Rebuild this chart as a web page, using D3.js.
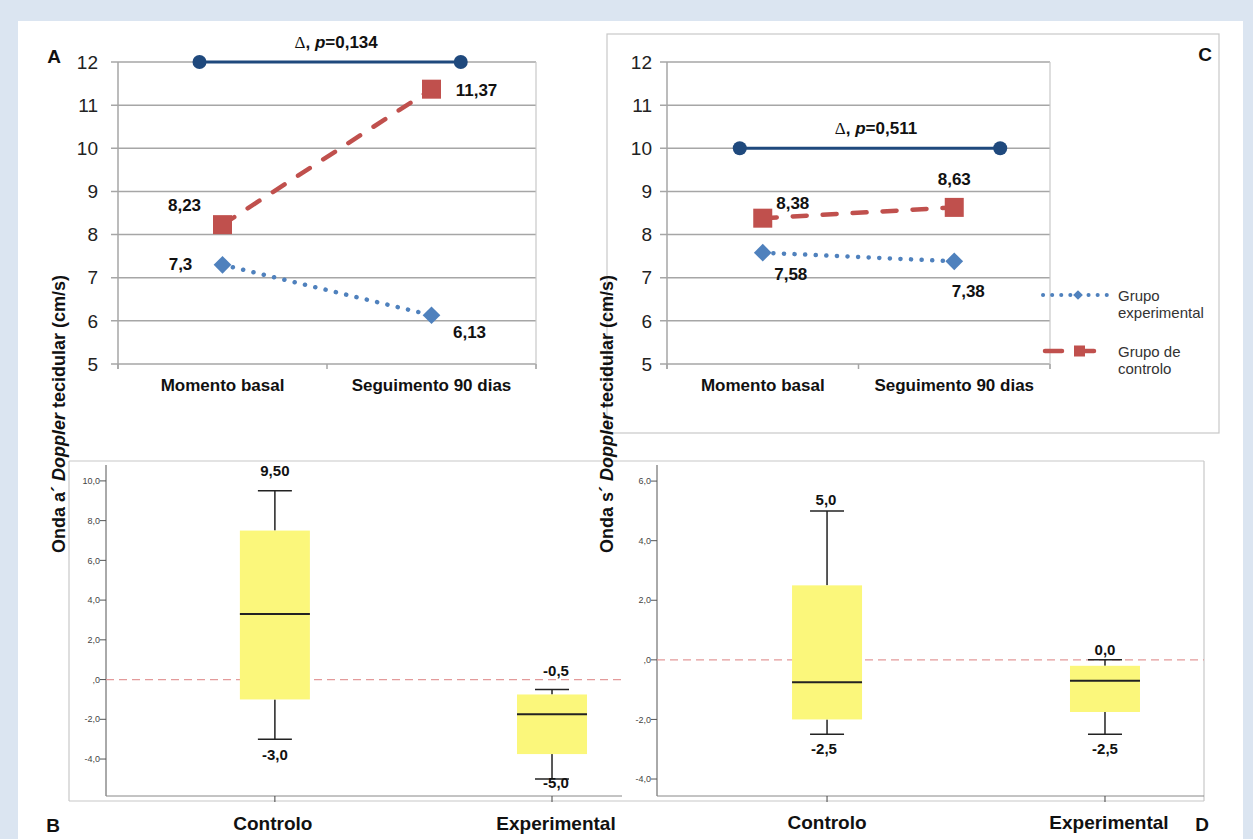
<!DOCTYPE html>
<html><head><meta charset="utf-8">
<script src="https://cdn.jsdelivr.net/npm/d3@7"></script>
<style>
body{margin:0;background:#dbe5f1;}
svg{display:block;}
text{font-family:"Liberation Sans", Arial, sans-serif;}
</style>
</head><body>
<svg id="chart" width="1253" height="839"></svg>
<script>
// ---------- DATA ----------
const timeCategories = ["Momento basal", "Seguimento 90 dias"];
const topTicks = [5, 6, 7, 8, 9, 10, 11, 12];

const aExperimental = [7.3, 6.13];
const aControl = [8.23, 11.37];
const aBracketIdx = [-0.11, 1.14];
const aBracketValue = 12;
const aPValue = "0,134";

const cExperimental = [7.58, 7.38];
const cControl = [8.38, 8.63];
const cBracketIdx = [-0.12, 1.24];
const cBracketValue = 10;
const cPValue = "0,511";

const legendLabels = [["Grupo", "experimental"], ["Grupo de", "controlo"]];

const boxCategories = ["Controlo", "Experimental"];
const bTicks = [-4, -2, 0, 2, 4, 6, 8, 10];
const bMin = [-3.0, -5.0];
const bQ1 = [-1.0, -3.75];
const bMedian = [3.3, -1.75];
const bQ3 = [7.5, -0.75];
const bMax = [9.5, -0.5];
const bMaxLabels = ["9,50", "-0,5"];
const bMinLabels = ["-3,0", "-5,0"];

const dTicks = [-4, -2, 0, 2, 4, 6];
const dMin = [-2.5, -2.5];
const dQ1 = [-2.0, -1.75];
const dMedian = [-0.75, -0.7];
const dQ3 = [2.5, -0.2];
const dMax = [5.0, 0.0];
const dMaxLabels = ["5,0", "0,0"];
const dMinLabels = ["-2,5", "-2,5"];

// ---------- STYLE ----------
const RED = "#c0504d", BLUE = "#4f81bd", NAVY = "#1f497d", GRID = "#a6a6a6";
const YELLOW = "#fbf77b", FRAME = "#c8c8c8";

const svg = d3.select("#chart");
svg.append("rect").attr("x", 18).attr("y", 21).attr("width", 1225).attr("height", 818).attr("fill", "#fff");

const fmt = v => String(v).replace(".", ",");

// panel C frame
svg.append("rect").attr("x", 607).attr("y", 34).attr("width", 612).attr("height", 399)
  .attr("fill", "none").attr("stroke", FRAME).attr("stroke-width", 1.2);

function drawLinePanel(o) {
  const g = svg.append("g");
  const y = d3.scaleLinear().domain([5, 12]).range([364, 62]);
  const x = d3.scaleBand().domain(timeCategories).range([o.x0, o.x1]).padding(0);
  const xi = d3.scaleLinear().domain([-0.5, 1.5]).range([o.x0, o.x1]);
  const cx = (d, i) => x(timeCategories[i]) + x.bandwidth() / 2;

  // grid
  g.selectAll(".grid").data(topTicks).join("line")
    .attr("x1", o.x0 - 7).attr("x2", o.x1).attr("y1", d => y(d)).attr("y2", d => y(d))
    .attr("stroke", GRID).attr("stroke-width", 1.5);
  // axes
  g.append("line").attr("x1", o.x0).attr("x2", o.x0).attr("y1", y(12)).attr("y2", y(5) + 5)
    .attr("stroke", GRID).attr("stroke-width", 1.5);
  g.append("line").attr("x1", o.x1).attr("x2", o.x1).attr("y1", y(12)).attr("y2", y(5) + 5)
    .attr("stroke", "#c8c8c8").attr("stroke-width", 1.2);
  [o.x0, o.x0 + x.bandwidth(), o.x1].forEach(t => {
    g.append("line").attr("x1", t).attr("x2", t).attr("y1", y(5)).attr("y2", y(5) + 5)
      .attr("stroke", GRID).attr("stroke-width", 1.5);
  });
  g.selectAll(".yt").data(topTicks).join("text")
    .attr("x", o.x0 - o.labOff).attr("y", d => y(d)).attr("dy", "0.35em")
    .attr("text-anchor", "end").attr("font-size", 19).attr("fill", "#222").text(d => d);
  g.selectAll(".xt").data(timeCategories).join("text")
    .attr("x", d => x(d) + x.bandwidth() / 2).attr("y", 391)
    .attr("text-anchor", "middle").attr("font-size", 17).attr("font-weight", "bold")
    .attr("fill", "#111").text(d => d);

  // bracket
  const by = y(o.bracketValue);
  g.append("line").attr("x1", xi(o.bracketIdx[0])).attr("x2", xi(o.bracketIdx[1]))
    .attr("y1", by).attr("y2", by).attr("stroke", NAVY).attr("stroke-width", 3);
  g.selectAll(".bc").data(o.bracketIdx).join("circle")
    .attr("cx", d => xi(d)).attr("cy", by).attr("r", 7).attr("fill", NAVY);
  const dt = g.append("text").attr("x", (xi(o.bracketIdx[0]) + xi(o.bracketIdx[1])) / 2 + 6)
    .attr("y", by - 14).attr("text-anchor", "middle").attr("font-size", 17).attr("fill", "#111");
  dt.append("tspan").attr("font-family", "Liberation Serif, Times New Roman, serif").text("\u0394");
  dt.append("tspan").attr("font-weight", "bold").text(", ");
  dt.append("tspan").attr("font-weight", "bold").attr("font-style", "italic").text("p");
  dt.append("tspan").attr("font-weight", "bold").text("=" + o.p);

  // series
  const line = d3.line().x((d, i) => cx(d, i)).y(d => y(d));
  g.append("path").datum(o.control).attr("d", line).attr("fill", "none")
    .attr("stroke", RED).attr("stroke-width", 4.5).attr("stroke-dasharray", "14,16")
    .attr("stroke-linecap", "round");
  g.append("path").datum(o.experimental).attr("d", line).attr("fill", "none")
    .attr("stroke", BLUE).attr("stroke-width", 4.5).attr("stroke-dasharray", "0.1,10.5")
    .attr("stroke-linecap", "round");
  g.selectAll(".sq").data(o.control).join("rect")
    .attr("x", (d, i) => cx(d, i) - 9.5).attr("y", d => y(d) - 9.5)
    .attr("width", 19).attr("height", 19).attr("fill", RED);
  g.selectAll(".dm").data(o.experimental).join("path")
    .attr("d", d3.symbol(d3.symbolDiamond2, 200)())
    .attr("transform", (d, i) => `translate(${cx(d, i)},${y(d)})`).attr("fill", BLUE);

  const lab = (arr, offs) => g.selectAll(null).data(arr).join("text")
    .attr("x", (d, i) => cx(d, i) + offs[i][0]).attr("y", (d, i) => y(d) + offs[i][1])
    .attr("dy", "0.35em").attr("text-anchor", "middle").attr("font-size", 17)
    .attr("font-weight", "bold").attr("fill", "#111").text(d => fmt(d));
  lab(o.control, o.ctrlOff);
  lab(o.experimental, o.expOff);
}

drawLinePanel({x0: 118, x1: 536, labOff: 20, experimental: aExperimental, control: aControl,
  bracketIdx: aBracketIdx, bracketValue: aBracketValue, p: aPValue,
  ctrlOff: [[-38, -20], [45, 1]], expOff: [[-42, -1], [38, 17]]});
drawLinePanel({x0: 667, x1: 1050, labOff: 15, experimental: cExperimental, control: cControl,
  bracketIdx: cBracketIdx, bracketValue: cBracketValue, p: cPValue,
  ctrlOff: [[30, -15], [0, -28]], expOff: [[28, 21], [14, 30]]});

// panel letters
[["A", 54, 63], ["C", 1205, 61], ["B", 53, 832], ["D", 1202, 831]].forEach(([t, x, yy]) => {
  svg.append("text").attr("x", x).attr("y", yy).attr("text-anchor", "middle")
    .attr("font-size", 19).attr("font-weight", "bold").attr("fill", "#111").text(t);
});

// legend
const lg = svg.append("g");
lg.append("line").attr("x1", 1043).attr("x2", 1107).attr("y1", 295).attr("y2", 295)
  .attr("stroke", BLUE).attr("stroke-width", 4).attr("stroke-dasharray", "0.1,9")
  .attr("stroke-linecap", "round");
lg.append("path").attr("d", d3.symbol(d3.symbolDiamond2, 60)()).attr("transform", "translate(1078,295)").attr("fill", BLUE);
lg.append("line").attr("x1", 1045).attr("x2", 1097).attr("y1", 351).attr("y2", 351)
  .attr("stroke", RED).attr("stroke-width", 4.5).attr("stroke-dasharray", "17,15")
  .attr("stroke-linecap", "round");
lg.append("rect").attr("x", 1074).attr("y", 345.5).attr("width", 11).attr("height", 11).attr("fill", RED);
legendLabels.forEach((lines, k) => {
  const t = lg.append("text").attr("x", 1118).attr("y", k === 0 ? 301 : 357)
    .attr("font-size", 15).attr("fill", "#333");
  lines.forEach((s, j) => t.append("tspan").attr("x", 1118).attr("dy", j === 0 ? 0 : 17).text(s));
});

// bottom frame
svg.append("line").attr("x1", 69).attr("x2", 1204).attr("y1", 461).attr("y2", 461).attr("stroke", FRAME).attr("stroke-width", 1.2);
svg.append("line").attr("x1", 69).attr("x2", 1204).attr("y1", 801).attr("y2", 801).attr("stroke", FRAME).attr("stroke-width", 1.2);
svg.append("line").attr("x1", 69).attr("x2", 69).attr("y1", 461).attr("y2", 801).attr("stroke", FRAME).attr("stroke-width", 1.2);
svg.append("line").attr("x1", 1204).attr("x2", 1204).attr("y1", 461).attr("y2", 801).attr("stroke", FRAME).attr("stroke-width", 1.2);

function drawBoxPanel(o) {
  const g = svg.append("g");
  const y = d3.scaleLinear().domain(o.domain).range([796, 465]);
  const x = d3.scalePoint().domain(boxCategories).range([o.x0, o.x1]).padding(o.pad).align(o.align);
  // axes
  g.append("line").attr("x1", o.x0).attr("x2", o.x0).attr("y1", 465).attr("y2", 796).attr("stroke", "#555").attr("stroke-width", 1);
  g.append("line").attr("x1", o.x0).attr("x2", o.x1).attr("y1", 796).attr("y2", 796).attr("stroke", "#888").attr("stroke-width", 1);
  g.selectAll(".tk").data(o.ticks).join("line")
    .attr("x1", o.x0 - 6).attr("x2", o.x0).attr("y1", d => y(d)).attr("y2", d => y(d))
    .attr("stroke", "#555");
  g.selectAll(".tl").data(o.ticks).join("text")
    .attr("x", o.x0 - 6).attr("y", d => y(d)).attr("dy", "0.35em").attr("text-anchor", "end")
    .attr("font-size", 9).attr("fill", "#444")
    .text(d => d === 0 ? ",0" : d.toFixed(1).replace(".", ","));
  g.selectAll(".xk").data(boxCategories).join("line")
    .attr("x1", d => x(d)).attr("x2", d => x(d)).attr("y1", 796).attr("y2", 802).attr("stroke", "#444");
  g.selectAll(".xl").data(boxCategories).join("text")
    .attr("x", (d, i) => x(d) + o.catOff[i]).attr("y", o.catY).attr("text-anchor", "middle")
    .attr("font-size", 19).attr("font-weight", "bold").attr("fill", "#111").text(d => d);
  // zero reference
  g.append("line").attr("x1", o.x0).attr("x2", o.x1).attr("y1", y(0)).attr("y2", y(0))
    .attr("stroke", "#e39a9a").attr("stroke-width", 1.3).attr("stroke-dasharray", "8,5");

  const bw = 70, cw = 34;
  boxCategories.forEach((c, i) => {
    const cx = x(c);
    g.append("line").attr("x1", cx).attr("x2", cx).attr("y1", y(o.max[i])).attr("y2", y(o.q3[i])).attr("stroke", "#222").attr("stroke-width", 1.5);
    g.append("line").attr("x1", cx).attr("x2", cx).attr("y1", y(o.q1[i])).attr("y2", y(o.min[i])).attr("stroke", "#222").attr("stroke-width", 1.5);
    g.append("line").attr("x1", cx - cw / 2).attr("x2", cx + cw / 2).attr("y1", y(o.max[i])).attr("y2", y(o.max[i])).attr("stroke", "#222").attr("stroke-width", 1.5);
    g.append("line").attr("x1", cx - cw / 2).attr("x2", cx + cw / 2).attr("y1", y(o.min[i])).attr("y2", y(o.min[i])).attr("stroke", "#222").attr("stroke-width", 1.5);
    g.append("rect").attr("x", cx - bw / 2).attr("y", y(o.q3[i])).attr("width", bw)
      .attr("height", y(o.q1[i]) - y(o.q3[i])).attr("fill", YELLOW);
    g.append("line").attr("x1", cx - bw / 2).attr("x2", cx + bw / 2).attr("y1", y(o.med[i])).attr("y2", y(o.med[i])).attr("stroke", "#222").attr("stroke-width", 2);
    g.append("text").attr("x", cx + o.maxOff[i][0]).attr("y", y(o.max[i]) + o.maxOff[i][1]).attr("dy", "0.35em")
      .attr("text-anchor", "middle").attr("font-size", 15).attr("font-weight", "bold").attr("fill", "#111").text(o.maxLab[i]);
    g.append("text").attr("x", cx + o.minOff[i][0]).attr("y", y(o.min[i]) + o.minOff[i][1]).attr("dy", "0.35em")
      .attr("text-anchor", "middle").attr("font-size", 15).attr("font-weight", "bold").attr("fill", "#111").text(o.minLab[i]);
  });
}

drawBoxPanel({x0: 106, x1: 622, domain: [-5.86, 10.8], pad: 0.431, align: 0.707, ticks: bTicks,
  min: bMin, q1: bQ1, med: bMedian, q3: bQ3, max: bMax, maxLab: bMaxLabels, minLab: bMinLabels,
  maxOff: [[0, -20], [4, -19]], minOff: [[0, 16], [4, 4]], catOff: [-2, 4], catY: 830});
drawBoxPanel({x0: 657, x1: 1204, domain: [-4.57, 6.54], pad: 0.484, align: 0.632, ticks: dTicks,
  min: dMin, q1: dQ1, med: dMedian, q3: dQ3, max: dMax, maxLab: dMaxLabels, minLab: dMinLabels,
  maxOff: [[-1, -11], [0, -10]], minOff: [[-3, 14], [0, 14]], catOff: [0, 4], catY: 829});

// y-axis titles
function yTitle(x, yy, letter) {
  const t = svg.append("text").attr("transform", `translate(${x},${yy}) rotate(-90)`)
    .attr("text-anchor", "middle").attr("font-size", 18).attr("font-weight", "bold").attr("fill", "#111");
  t.append("tspan").text(`Onda ${letter}\u00b4 `);
  t.append("tspan").attr("font-style", "italic").text("Doppler");
  t.append("tspan").text(" tecidular (cm/s)");
}
yTitle(65, 414, "a");
yTitle(613, 414, "s");
</script>
</body></html>
